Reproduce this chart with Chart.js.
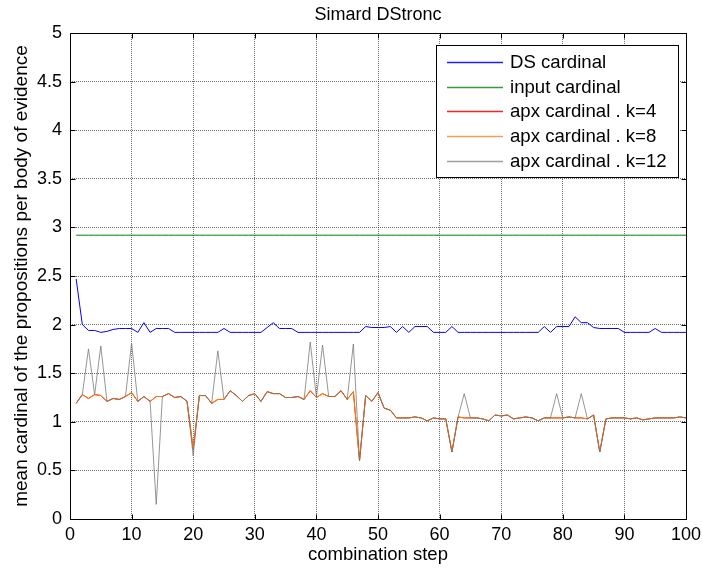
<!DOCTYPE html>
<html>
<head>
<meta charset="utf-8">
<script src="https://cdn.jsdelivr.net/npm/chart.js@4/dist/chart.umd.min.js"></script>
<style>
html,body{margin:0;padding:0;background:#fff;}
#wrap{width:702px;height:573px;position:relative;}
</style>
</head>
<body>
<div id="wrap"><canvas id="c" width="702" height="573"></canvas></div>
<script>
// ---------- DATA ----------
const chartTitle = 'Simard DStronc';
const xTitle = 'combination step';
const yTitle = 'mean cardinal of the propositions per body of evidence';
const seriesNames = ['DS cardinal', 'input cardinal', 'apx cardinal . k=4', 'apx cardinal . k=8', 'apx cardinal . k=12'];

const xTicks = [0, 10, 20, 30, 40, 50, 60, 70, 80, 90, 100];
const yTicks = [0, 0.5, 1, 1.5, 2, 2.5, 3, 3.5, 4, 4.5, 5];

// combination steps (last one lies just past the axis end and is clipped)
const steps = [1,2,3,4,5,6,7,8,9,10,11,12,13,14,15,16,17,18,19,20,
  21,22,23,24,25,26,27,28,29,30,31,32,33,34,35,36,37,38,39,40,
  41,42,43,44,45,46,47,48,49,50,51,52,53,54,55,56,57,58,59,60,
  61,62,63,64,65,66,67,68,69,70,71,72,73,74,75,76,77,78,79,80,
  81,82,83,84,85,86,87,88,89,90,91,92,93,94,95,96,97,98,99,100,101];

const dsCardinal = [2.47,2.00,1.94,1.94,1.92,1.93,1.95,1.96,1.96,1.96,
  1.92,2.02,1.92,1.96,1.96,1.96,1.92,1.92,1.92,1.92,
  1.92,1.92,1.92,1.92,1.96,1.92,1.92,1.92,1.92,1.92,
  1.92,1.97,2.02,1.96,1.96,1.96,1.92,1.92,1.92,1.92,
  1.92,1.92,1.92,1.92,1.92,1.92,1.92,1.98,1.97,1.97,
  1.97,1.98,1.92,1.98,1.92,1.98,1.98,1.98,1.92,1.92,
  1.92,1.98,1.92,1.92,1.92,1.92,1.92,1.92,1.92,1.92,
  1.92,1.92,1.92,1.92,1.92,1.92,1.98,1.92,1.98,1.98,
  1.98,2.08,2.02,2.02,1.97,1.96,1.96,1.96,1.96,1.92,
  1.92,1.92,1.92,1.92,1.96,1.92,1.92,1.92,1.92,1.92,0];

const inputCardinal = [2.92,2.92,2.92,2.92,2.92,2.92,2.92,2.92,2.92,2.92,
  2.92,2.92,2.92,2.92,2.92,2.92,2.92,2.92,2.92,2.92,
  2.92,2.92,2.92,2.92,2.92,2.92,2.92,2.92,2.92,2.92,
  2.92,2.92,2.92,2.92,2.92,2.92,2.92,2.92,2.92,2.92,
  2.92,2.92,2.92,2.92,2.92,2.92,2.92,2.92,2.92,2.92,
  2.92,2.92,2.92,2.92,2.92,2.92,2.92,2.92,2.92,2.92,
  2.92,2.92,2.92,2.92,2.92,2.92,2.92,2.92,2.92,2.92,
  2.92,2.92,2.92,2.92,2.92,2.92,2.92,2.92,2.92,2.92,
  2.92,2.92,2.92,2.92,2.92,2.92,2.92,2.92,2.92,2.92,
  2.92,2.92,2.92,2.92,2.92,2.92,2.92,2.92,2.92,2.92];

const apxK4 = [1.19,1.28,1.24,1.28,1.27,1.21,1.24,1.23,1.26,1.30,
  1.21,1.26,1.21,1.26,1.26,1.29,1.25,1.26,1.21,0.72,
  1.27,1.27,1.19,1.23,1.23,1.32,1.27,1.21,1.27,1.29,
  1.21,1.31,1.29,1.29,1.25,1.25,1.26,1.23,1.32,1.25,
  1.29,1.26,1.26,1.32,1.23,1.31,0.60,1.27,1.21,1.30,
  1.14,1.12,1.04,1.04,1.04,1.05,1.04,1.01,1.04,1.03,
  1.03,0.69,1.05,1.04,1.04,1.04,1.03,1.01,1.07,1.06,
  1.07,1.03,1.04,1.05,1.04,1.01,1.04,1.04,1.04,1.04,
  1.05,1.04,1.04,1.03,1.07,0.69,1.03,1.04,1.04,1.04,
  1.03,1.04,1.02,1.03,1.04,1.04,1.04,1.04,1.05,1.04,0];

const apxK8 = [1.19,1.28,1.24,1.28,1.27,1.21,1.24,1.23,1.26,1.30,
  1.21,1.26,1.21,1.26,1.26,1.29,1.25,1.26,1.21,0.72,
  1.27,1.27,1.19,1.23,1.23,1.32,1.27,1.21,1.27,1.29,
  1.21,1.31,1.29,1.29,1.25,1.25,1.26,1.23,1.32,1.25,
  1.29,1.26,1.26,1.32,1.23,1.31,0.60,1.27,1.21,1.30,
  1.14,1.12,1.04,1.04,1.04,1.05,1.04,1.01,1.04,1.03,
  1.03,0.69,1.05,1.04,1.04,1.04,1.03,1.01,1.07,1.06,
  1.07,1.03,1.04,1.05,1.04,1.01,1.04,1.04,1.04,1.04,
  1.05,1.04,1.04,1.03,1.07,0.69,1.03,1.04,1.04,1.04,
  1.03,1.04,1.02,1.03,1.04,1.04,1.04,1.04,1.05,1.04,0];

const apxK12 = [1.19,1.28,1.75,1.28,1.78,1.21,1.24,1.23,1.26,1.81,
  1.21,1.26,1.21,0.15,1.26,1.29,1.25,1.26,1.21,0.65,
  1.27,1.27,1.19,1.73,1.23,1.32,1.27,1.21,1.27,1.29,
  1.21,1.31,1.29,1.29,1.25,1.25,1.26,1.23,1.82,1.25,
  1.79,1.26,1.26,1.32,1.23,1.80,0.60,1.27,1.21,1.30,
  1.14,1.12,1.04,1.04,1.04,1.05,1.04,1.01,1.04,1.03,
  1.03,0.69,1.05,1.29,1.04,1.04,1.03,1.01,1.07,1.06,
  1.07,1.03,1.04,1.05,1.04,1.01,1.04,1.04,1.29,1.04,
  1.05,1.04,1.29,1.03,1.07,0.69,1.03,1.04,1.04,1.04,
  1.03,1.04,1.02,1.03,1.04,1.04,1.04,1.04,1.05,1.04,0];

// ---------- STYLE ----------
const FONT = '"Liberation Sans", Arial, Helvetica, sans-serif';
const colors = ['#0000ff', '#008000', '#ff0000', '#ff7f00', 'rgba(115,115,115,0.75)'];
const legendColors = ['#2020ff', '#3a9a3a', '#ff2020', '#f0a050', '#a0a0a0'];

function pts(vals) { return vals.map((v, i) => ({ x: steps[i], y: v })); }

const allSeries = [dsCardinal, inputCardinal, apxK4, apxK8, apxK12];
const datasets = allSeries.map((vals, i) => ({
  label: seriesNames[i],
  data: pts(vals),
  borderColor: colors[i],
  backgroundColor: colors[i],
  borderWidth: 1,
  pointRadius: 0,
  pointHoverRadius: 0,
  tension: 0,
  fill: false,
  order: allSeries.length - i,
  clip: { left: 1, top: 1, right: 1.2, bottom: 1 }
}));

// MATLAB-like frame: box, inward ticks, boxed legend
const framePlugin = {
  id: 'frame',
  beforeDatasetsDraw(chart) {
    const { ctx, scales: { x, y } } = chart;
    const L = Math.round(x.getPixelForValue(xTicks[0])) + 0.5;
    const R = Math.round(x.getPixelForValue(xTicks[xTicks.length - 1])) + 0.5;
    const T = Math.round(y.getPixelForValue(yTicks[yTicks.length - 1])) + 0.5;
    const B = Math.round(y.getPixelForValue(yTicks[0])) + 0.5;
    ctx.save();
    ctx.strokeStyle = '#000';
    ctx.lineWidth = 1;
    ctx.setLineDash([]);
    ctx.beginPath();
    ctx.rect(L, T, R - L, B - T);
    const tl = 5;
    xTicks.forEach(v => {
      const px = Math.round(x.getPixelForValue(v)) + 0.5;
      ctx.moveTo(px, B); ctx.lineTo(px, B - tl);
      ctx.moveTo(px, T); ctx.lineTo(px, T + tl);
    });
    yTicks.forEach(v => {
      const py = Math.round(y.getPixelForValue(v)) + 0.5;
      ctx.moveTo(L, py); ctx.lineTo(L + tl, py);
      ctx.moveTo(R, py); ctx.lineTo(R - tl, py);
    });
    ctx.stroke();
    ctx.restore();
  },
  afterDraw(chart) {
    const { ctx, chartArea: a } = chart;
    const ds = chart.data.datasets;
    ctx.save();
    ctx.font = '18.6px ' + FONT;
    let maxW = 0;
    ds.forEach(d => { maxW = Math.max(maxW, ctx.measureText(d.label).width); });
    const w = Math.round(74 + maxW + 11);
    const h = 132;
    const right = Math.round(a.right) - 8;
    const left = right - w;
    const top = Math.round(a.top) + 12;
    ctx.fillStyle = '#fff';
    ctx.fillRect(left, top, w, h);
    ctx.strokeStyle = '#000';
    ctx.lineWidth = 1;
    ctx.strokeRect(left + 0.5, top + 0.5, w, h);
    ctx.textBaseline = 'middle';
    ctx.textAlign = 'left';
    ds.forEach((d, i) => {
      const cy = top + 16.7 + i * 24.8;
      ctx.strokeStyle = legendColors[i];
      ctx.lineWidth = 1.4;
      ctx.beginPath();
      ctx.moveTo(left + 11, Math.round(cy) + 0.5);
      ctx.lineTo(left + 67, Math.round(cy) + 0.5);
      ctx.stroke();
      ctx.fillStyle = '#000';
      ctx.fillText(d.label, left + 74, cy + 1);
    });
    ctx.restore();
  }
};

const gridColor = 'rgba(60,60,60,0.75)';

new Chart(document.getElementById('c'), {
  type: 'line',
  data: { datasets },
  options: {
    responsive: false,
    devicePixelRatio: 1,
    animation: false,
    events: [],
    layout: { padding: { left: 0, right: 16, top: 0, bottom: 0 } },
    plugins: {
      legend: { display: false },
      tooltip: { enabled: false },
      title: {
        display: true,
        text: chartTitle,
        fullSize: false,
        color: '#000',
        font: { family: FONT, size: 18, weight: 'normal' },
        padding: { top: 4, bottom: 7.4 }
      }
    },
    scales: {
      x: {
        type: 'linear',
        min: xTicks[0],
        max: xTicks[xTicks.length - 1],
        afterBuildTicks: s => { s.ticks = xTicks.map(v => ({ value: v })); },
        afterFit: s => { s.height = 54; s.paddingLeft = 0; s.paddingRight = 0; },
        ticks: {
          color: '#000',
          font: { family: FONT, size: 18 },
          padding: 5,
          maxRotation: 0,
          autoSkip: false,
          callback: v => String(v)
        },
        grid: { color: gridColor, lineWidth: 1, drawTicks: false },
        border: { display: false, dash: [1, 1] },
        title: {
          display: true,
          text: xTitle,
          color: '#000',
          font: { family: FONT, size: 18.5 },
          padding: { top: 0, bottom: 6.5 }
        }
      },
      y: {
        type: 'linear',
        min: yTicks[0],
        max: yTicks[yTicks.length - 1],
        afterBuildTicks: s => { s.ticks = yTicks.map(v => ({ value: v })); },
        afterFit: s => { s.width = 70; s.paddingTop = 0; s.paddingBottom = 0; },
        ticks: {
          color: '#000',
          font: { family: FONT, size: 18 },
          padding: 8,
          autoSkip: false,
          callback: v => String(v)
        },
        grid: { color: gridColor, lineWidth: 1, drawTicks: false },
        border: { display: false, dash: [1, 1] },
        title: {
          display: true,
          text: yTitle,
          color: '#000',
          font: { family: FONT, size: 19 },
          padding: { top: 10.6, bottom: 0 }
        }
      }
    }
  },
  plugins: [framePlugin]
});
</script>
</body>
</html>
